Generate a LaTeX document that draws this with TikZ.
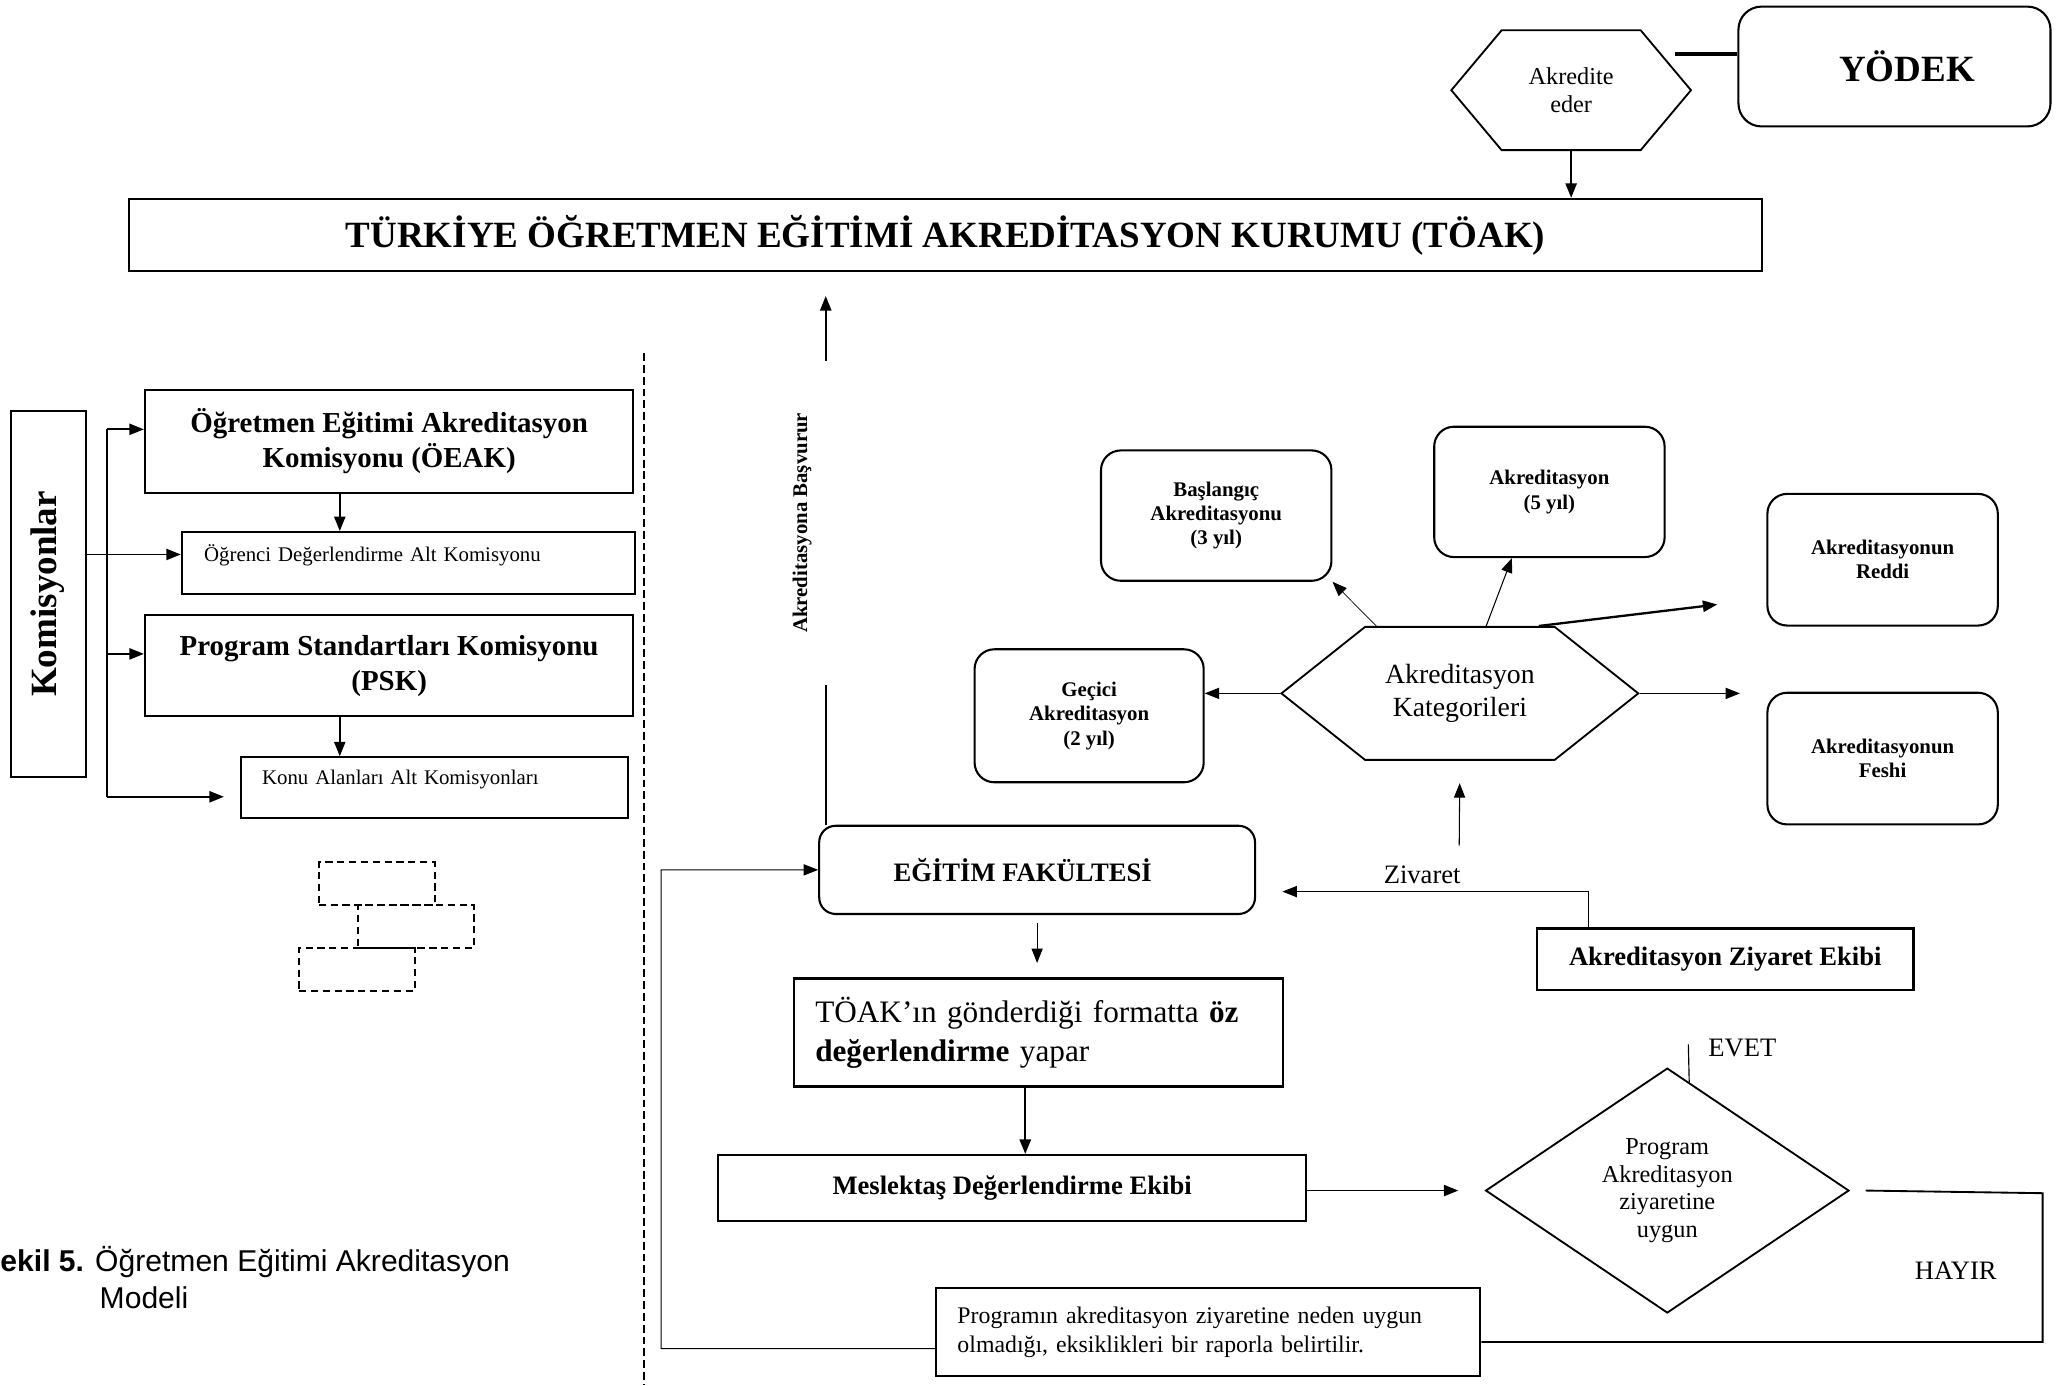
\documentclass[tikz,border=0pt]{standalone}
\usepackage{fontspec}
\setmainfont{Liberation Serif}
\setsansfont{Liberation Sans}
\usetikzlibrary{shapes.geometric, shapes.symbols, arrows.meta, positioning, calc}

\begin{document}
\begin{tikzpicture}[
    x=0.02cm, y=-0.02cm,
    box/.style={draw, line width=0.9pt, inner sep=0pt, align=center},
    rbox/.style={box, rounded corners=0.3cm},
    hexa/.style={draw, line width=0.8pt, signal, signal to=west and east, inner sep=0pt, align=center},
    arrow/.style={-{Triangle[length=0.22cm, width=0.17cm]}, line width=0.8pt},
    thinarrow/.style={arrow, line width=0.45pt},
    conn/.style={line width=0.8pt},
    dashbox/.style={draw, dash pattern=on 0.11cm off 0.07cm, line width=0.8pt, minimum width=1.76cm, minimum height=0.65cm},
    katbox/.style={rbox, minimum width=3.5cm, minimum height=1.98cm, font=\bfseries\fontsize{9}{10.5}\selectfont}
]
    \path[use as bounding box, fill=white] (0,0) rectangle (1568,1052);

    % Nodes - top row
    \node[box, minimum width=24.8cm, minimum height=1.1cm, font=\bfseries\fontsize{16}{19}\selectfont] (toak) at (718,178.5) {TÜRKİYE ÖĞRETMEN EĞİTİMİ AKREDİTASYON KURUMU (TÖAK)};
    \node[hexa, minimum width=3.64cm, minimum height=1.82cm, signal pointer angle=100, font=\fontsize{10.5}{12}\selectfont] (akredite) at (1193,68.5) {Akredite\\eder};
    \node[rbox, rounded corners=0.35cm, minimum width=4.74cm, minimum height=1.82cm, font=\bfseries\fontsize{16}{19}\selectfont] (yodek) at (1438.5,50.5) {\hspace*{0.38cm}YÖDEK};

    % Nodes - commissions (left)
    \node[box, rotate=90, minimum width=5.56cm, minimum height=1.14cm, font=\bfseries\fontsize{16}{19}\selectfont] (komisyon) at (36.5,451) {Komisyonlar};
    \node[box, minimum width=7.42cm, minimum height=1.56cm, font=\bfseries\fontsize{12.5}{15}\selectfont] (oeak) at (295.5,335) {Öğretmen Eğitimi Akreditasyon\\Komisyonu (ÖEAK)};
    \node[box, minimum width=6.88cm, minimum height=0.94cm, text width=6.2cm, text depth=0.3cm, align=left, font=\fontsize{9}{11}\selectfont] (ogrenci) at (310,427.5) {Öğrenci Değerlendirme Alt Komisyonu};
    \node[box, minimum width=7.42cm, minimum height=1.54cm, font=\bfseries\fontsize{12.5}{15}\selectfont] (psk) at (295.5,505.5) {Program Standartları Komisyonu\\(PSK)};
    \node[box, minimum width=5.88cm, minimum height=0.92cm, text width=5.24cm, text depth=0.3cm, align=left, font=\fontsize{9}{11}\selectfont] (konu) at (330,598) {Konu Alanları Alt Komisyonları};
    \node[dashbox] (bos1) at (286,671) {};
    \node[dashbox] (bos2) at (316,703.5) {};
    \node[dashbox] (bos3) at (271,736) {};
    \node[anchor=west, align=left, inner sep=0pt, font=\sffamily\fontsize{13}{16}\selectfont] (sekil) at (0,970) {\textbf{ekil 5.} Öğretmen Eğitimi Akreditasyon\\\hspace*{3.3em}Modeli};

    % Separator
    \draw[dash pattern=on 0.12cm off 0.06cm, line width=0.8pt] (489,268) -- (489,1052);

    % Nodes - faculty flow (right)
    \node[rotate=90, font=\bfseries\fontsize{9}{11}\selectfont] (basvuru) at (609,397) {Akreditasyona Başvurur};
    \node[rbox, rounded corners=0.25cm, minimum width=6.62cm, minimum height=1.34cm, font=\bfseries\fontsize{11.5}{14}\selectfont] (fakulte) at (787.5,660.5) {EĞİTİM FAKÜLTESİ\hspace*{0.44cm}};
    \node[box, minimum width=7.42cm, minimum height=1.64cm, text width=6.78cm, align=left, font=\fontsize{13.5}{17}\selectfont] (ozdeg) at (788.5,784) {TÖAK’ın gönderdiği formatta \textbf{öz}\\\textbf{değerlendirme} yapar};
    \node[box, minimum width=8.94cm, minimum height=1cm, font=\bfseries\fontsize{11.5}{14}\selectfont] (meslek) at (768.5,902) {Meslektaş Değerlendirme Ekibi};
    \node[draw, diamond, line width=0.8pt, minimum width=5.52cm, minimum height=3.72cm, inner sep=0pt, align=center, font=\fontsize{10.5}{12}\selectfont] (uygun) at (1266,904) {Program\\Akreditasyon\\ziyaretine\\uygun};
    \node[box, minimum width=8.26cm, minimum height=1.34cm, text width=7.62cm, align=left, font=\fontsize{10.3}{12.5}\selectfont] (rapor) at (917.5,1011.5) {Programın akreditasyon ziyaretine neden uygun\\olmadığı, eksiklikleri bir raporla belirtilir.};
    \node[box, minimum width=5.72cm, minimum height=0.94cm, font=\bfseries\fontsize{11.5}{14}\selectfont] (ziyaret) at (1310,728.5) {Akreditasyon Ziyaret Ekibi};
    \node[font=\fontsize{11.5}{14}\selectfont] (evet) at (1323,796) {EVET};
    \node[font=\fontsize{11.5}{14}\selectfont] (hayir) at (1485,965) {HAYIR};

    % Nodes - categories
    \node[hexa, minimum width=5.42cm, minimum height=2.02cm, signal pointer angle=77, font=\fontsize{12}{14}\selectfont] (kategori) at (1108.5,526.5) {Akreditasyon\\Kategorileri};
    \node[katbox] (baslangic) at (923.5,391.5) {Başlangıç\\Akreditasyonu\\(3 yıl)};
    \node[katbox] (akr5) at (1176.5,373.5) {Akreditasyon\\(5 yıl)};
    \node[katbox, minimum height=2cm] (reddi) at (1429.5,425) {Akreditasyonun\\Reddi};
    \node[katbox, minimum height=2cm] (feshi) at (1429.5,576) {Akreditasyonun\\Feshi};
    \node[katbox, minimum width=3.48cm, minimum height=2.02cm] (gecici) at (827,543.5) {Geçici\\Akreditasyon\\(2 yıl)};

    % Coordinates for free ends
    \coordinate (yodekl) at (1272,41);
    \coordinate (koltop) at (81,326);
    \coordinate (kolbot) at (81,605);
    \coordinate (konuok) at (170,605);
    \coordinate (pskin) at ([yshift=0.18cm]psk.west);
    \coordinate (ogrin) at ([yshift=0.13cm]ogrenci.west);
    \coordinate (basalt) at (627,520);
    \coordinate (basust) at (627,274);
    \coordinate (donus) at (502,1024);
    \coordinate (evetuc) at (1282,793);
    \coordinate (hayirk) at (1551,906);
    \coordinate (ziyk) at (1206,677);
    \coordinate (katalt) at (1108,642);
    \coordinate (reddok) at (1304,459);

    % Arrows - top
    \draw[line width=1.3pt] (yodekl) -- (yodekl -| yodek.west);
    \draw[arrow] (akredite.south) -- (akredite.south |- toak.north);

    % Arrows - commissions
    \draw[conn] (koltop) -- (kolbot);
    \draw[arrow] (koltop) -- (koltop -| oeak.west);
    \draw[arrow] (koltop |- pskin) -- (pskin);
    \draw[arrow] (kolbot) -- (konuok);
    \draw[arrow] (komisyon.south |- ogrin) -- (ogrin);
    \draw[arrow] ([xshift=-0.75cm]oeak.south) -- ([xshift=-0.75cm]oeak.south |- ogrenci.north);
    \draw[arrow] ([xshift=-0.75cm]psk.south) -- ([xshift=-0.75cm]psk.south |- konu.north);

    % Arrows - faculty flow
    \draw[conn] (basalt |- fakulte.north) -- (basalt);
    \draw[arrow, shorten >=0.36cm] (basust) -- (basust |- toak.south);
    \draw[thinarrow] ([yshift=-0.25cm]rapor.west) -- (donus) |- (fakulte.west);
    \draw[thinarrow, shorten <=0.12cm, shorten >=0.22cm] (fakulte.south) -- (fakulte.south |- ozdeg.north);
    \draw[arrow, line width=1pt] ([xshift=-0.2cm]ozdeg.south) -- ([xshift=-0.2cm]ozdeg.south |- meslek.north);
    \draw[arrow, shorten >=0.4cm] (meslek.east |- uygun.west) -- (uygun.west);
    \draw[line width=0.5pt] ($(uygun.north)!0.12!(uygun.east)$) -- (evetuc);
    \draw[conn] ([xshift=0.24cm]uygun.east) -- (hayirk) |- ([yshift=-0.15cm]rapor.east);
    \draw[thinarrow, shorten >=0.4cm] (ziyaret.north -| ziyk) -- (ziyk) -- (ziyk -| fakulte.east) node[midway, above, font=\fontsize{11.5}{14}\selectfont] (zivlbl) {Zivaret};

    % Arrows - categories
    \draw[thinarrow, shorten >=0.34cm] (katalt) -- (kategori.south);
    \draw[thinarrow] (kategori.west) -- (kategori.west -| gecici.east);
    \draw[arrow, line width=0.3pt] ([xshift=-1.27cm]kategori.north) -- (baslangic.south east);
    \draw[thinarrow] ([xshift=0.4cm]kategori.north) -- ([xshift=-0.57cm]akr5.south);
    \draw[arrow, line width=1pt] ([xshift=1.2cm]kategori.north) -- (reddok);
    \draw[thinarrow, shorten >=0.4cm] (kategori.east) -- (kategori.east -| feshi.west);
\end{tikzpicture}
\end{document}
